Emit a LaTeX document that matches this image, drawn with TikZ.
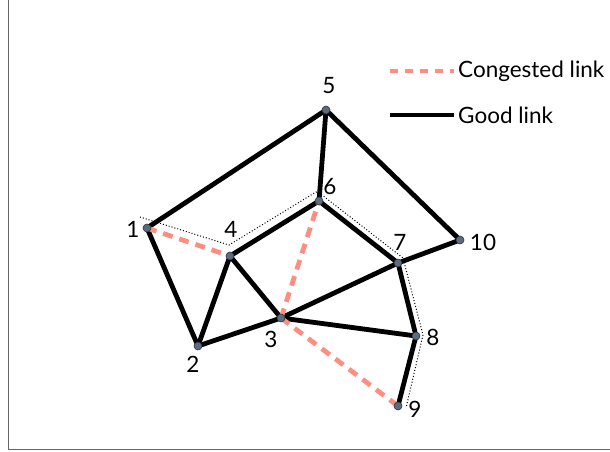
\documentclass[tikz,border=0pt]{standalone}
\usepackage{fontspec}
\setmainfont{Lato}
\usetikzlibrary{backgrounds}
\definecolor{congest}{HTML}{FF8E82}
\definecolor{dotfill}{HTML}{5B6B80}
\tikzset{
  vtx/.style={circle, draw=black!80, line width=0.6pt, fill=dotfill, inner sep=0pt, minimum size=8pt},
  good/.style={line width=4.8pt, black},
  congested/.style={line width=4.8pt, congest, dash pattern=on 10pt off 7pt},
  path mark/.style={line width=1pt, dash pattern=on 1pt off 2pt, black},
  lbl/.style={font=\fontsize{22.5pt}{24pt}\selectfont, inner sep=0pt},
  frameline/.style={line width=1pt, black!60}
}
\begin{document}
\begin{tikzpicture}[x=1pt, y=-1pt]
\useasboundingbox (0,0) rectangle (610,452);
\draw[frameline] (8.5,0) -- (8.5,449.5) -- (610,449.5);
% vertices
\node[vtx] (n1) at (147,228) {};
\node[vtx] (n2) at (198,346) {};
\node[vtx] (n3) at (281,318) {};
\node[vtx] (n4) at (230,256) {};
\node[vtx] (n5) at (326,110) {};
\node[vtx] (n6) at (319,201) {};
\node[vtx] (n7) at (398,263) {};
\node[vtx] (n8) at (416,336) {};
\node[vtx] (n9) at (398,406) {};
\node[vtx] (n10) at (460,240) {};
% path marks
\coordinate (p0) at (140,217);
\coordinate (p1) at (229,245);
\coordinate (p2) at (316,192);
\coordinate (p3) at (322,195);
\coordinate (p4) at (403,258);
\coordinate (p5) at (423,335);
\coordinate (p6) at (406,408);
\begin{scope}[on background layer]
\draw[path mark] (p0) -- (p1) -- (p2) -- (p3) -- (p4) -- (p5) -- (p6);
\foreach \a/\b in {n1/n5, n1/n2, n2/n4, n2/n3, n4/n3, n4/n6, n6/n5, n5/n10, n6/n7, n7/n10, n3/n7, n3/n8, n7/n8, n8/n9}
  \draw[good] (\a.center) -- (\b.center);
\foreach \a/\b in {n1/n4, n3/n6, n3/n9}
  \draw[congested] (\a.center) -- (\b.center);
\end{scope}
% labels
\node[lbl] (l1) at (133,229) {1};
\node[lbl] (l2) at (193,364) {2};
\node[lbl] (l3) at (271,339) {3};
\node[lbl] (l4) at (231,229) {4};
\node[lbl] (l5) at (329,86) {5};
\node[lbl] (l6) at (330,187) {6};
\node[lbl] (l7) at (400,242) {7};
\node[lbl] (l8) at (433,337) {8};
\node[lbl] (l9) at (415,409) {9};
\node[lbl] (l10) at (483,242) {10};
% legend
\coordinate (c1) at (390,71);
\coordinate (c2) at (454,71);
\coordinate (g1) at (390,115);
\coordinate (g2) at (454,115);
\draw[congested, dash pattern=on 8pt off 7pt] (c1) -- (c2);
\draw[good] (g1) -- (g2);
\node[lbl, anchor=west] (tc) at (458,71) {Congested link};
\node[lbl, anchor=west] (tg) at (458,115) {Good link};
\end{tikzpicture}
\end{document}
